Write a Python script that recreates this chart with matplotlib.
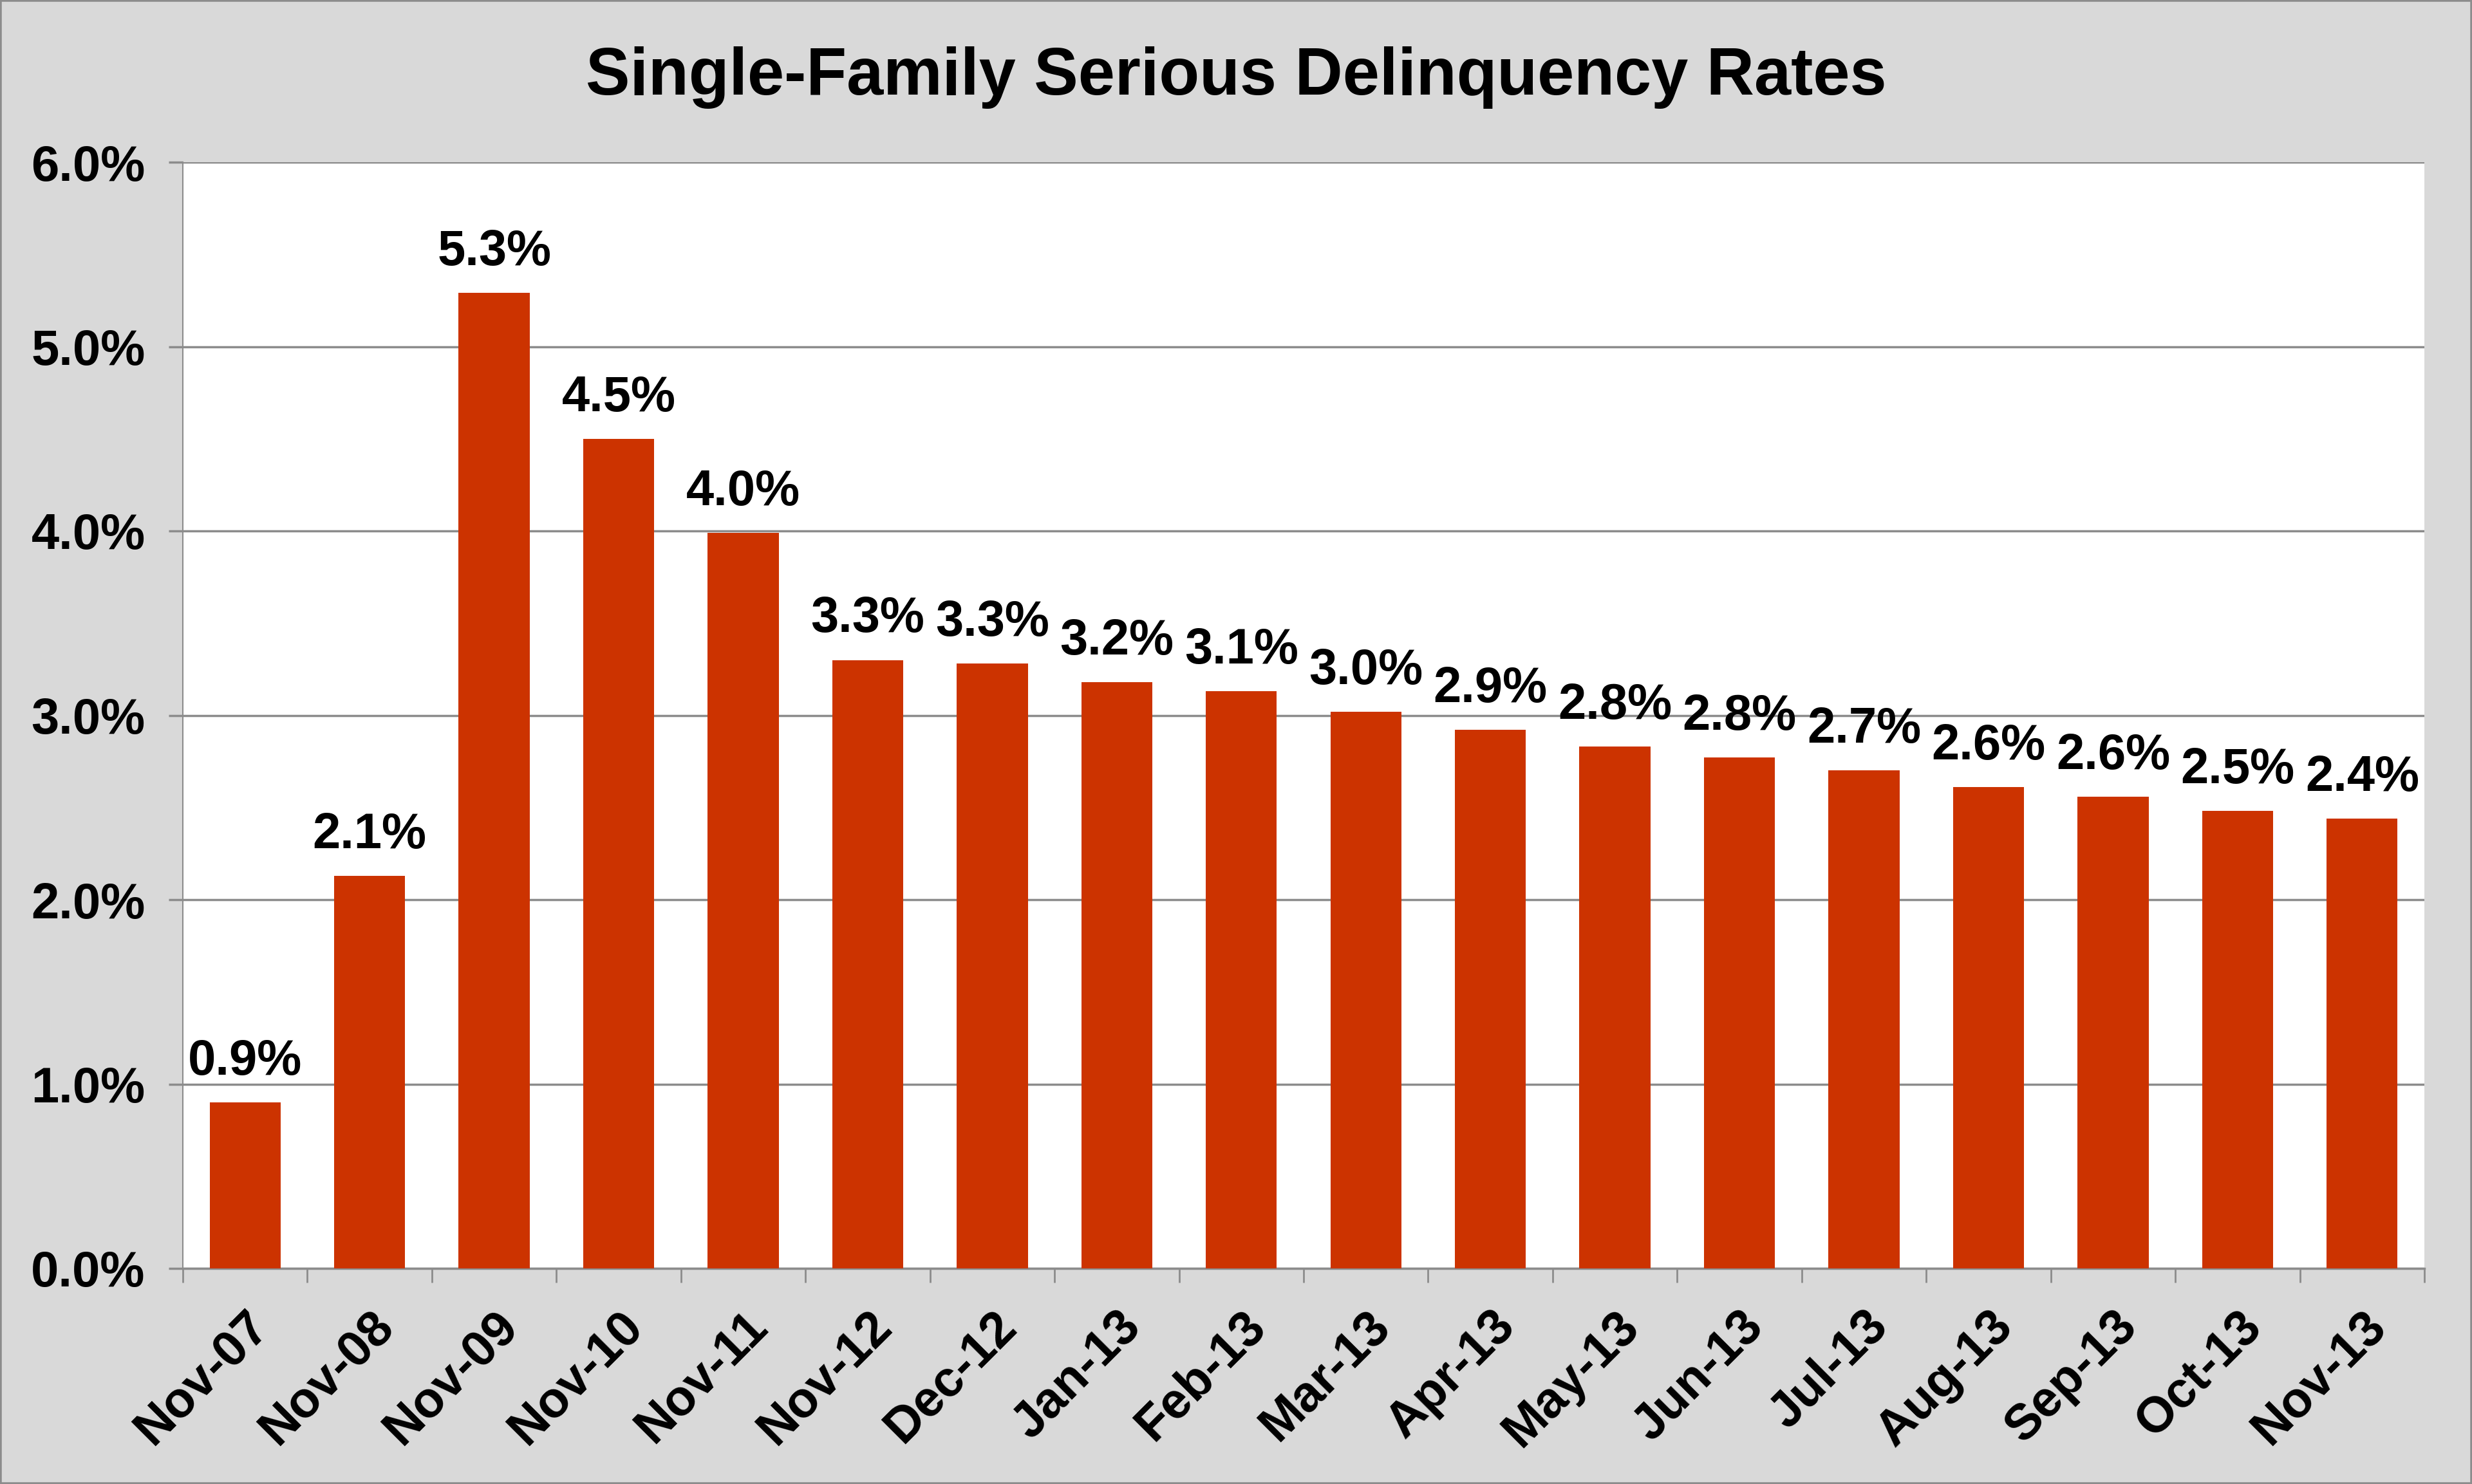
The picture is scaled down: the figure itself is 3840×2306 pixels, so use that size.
import matplotlib.pyplot as plt
import numpy as np
from matplotlib.ticker import FixedLocator, PercentFormatter

# data (percent)
months = ['Nov-07', 'Nov-08', 'Nov-09', 'Nov-10', 'Nov-11', 'Nov-12', 'Dec-12',
          'Jan-13', 'Feb-13', 'Mar-13', 'Apr-13', 'May-13', 'Jun-13', 'Jul-13',
          'Aug-13', 'Sep-13', 'Oct-13', 'Nov-13']
rates = [0.90, 2.13, 5.29, 4.50, 3.99, 3.30, 3.28, 3.18, 3.13, 3.02, 2.92,
         2.83, 2.77, 2.70, 2.61, 2.56, 2.48, 2.44]
y_ticks = [0, 1, 2, 3, 4, 5, 6]

plt.rcParams['font.family'] = ['Liberation Sans', 'DejaVu Sans']
plt.rcParams['font.weight'] = 'bold'

grid_col = '#8c8c8c'
bar_col = '#cc3300'

fig = plt.figure(figsize=(38.4, 23.06), dpi=100, facecolor='#d9d9d9')
ax = fig.add_axes([284 / 3840, 1 - 1971 / 2306, (3766 - 284) / 3840, (1971 - 252) / 2306])
ax.set_facecolor('white')

x = np.arange(len(months))
bars = ax.bar(x, rates, width=0.57, color=bar_col, zorder=3)

ax.set_xlim(-0.5, len(months) - 0.5)
ax.set_ylim(0, 6)
ax.yaxis.set_major_locator(FixedLocator(y_ticks))
ax.yaxis.set_major_formatter(PercentFormatter(decimals=1))
ax.grid(axis='y', color=grid_col, linewidth=2.5, zorder=1)
ax.set_axisbelow(True)

for side in ['top', 'right']:
    ax.spines[side].set_visible(False)
ax.spines['left'].set_color(grid_col)
ax.spines['left'].set_linewidth(1.5)
ax.spines['bottom'].set_color(grid_col)
ax.spines['bottom'].set_linewidth(2.5)

# labels at category centres, tick marks on the category boundaries
ax.set_xticks(x)
ax.set_xticklabels(months, rotation=45, ha='right', va='top', rotation_mode='anchor')
ax.set_xticks(np.arange(len(months) + 1) - 0.5, minor=True)
ax.tick_params(axis='x', which='major', length=0, pad=38, labelsize=56)
ax.tick_params(axis='x', which='minor', length=16, width=2, color=grid_col, direction='out')
ax.tick_params(axis='y', length=16, width=2.5, color=grid_col, direction='out', pad=26,
               labelsize=56)

for r, b in zip(rates, bars):
    ax.annotate(f'{r:.1f}%', (b.get_x() + b.get_width() / 2, r),
                xytext=(0, 31), textcoords='offset points',
                ha='center', va='baseline', fontsize=56, fontweight='bold', zorder=4)

fig.text(0.5, 1 - 147 / 2306, 'Single-Family Serious Delinquency Rates',
         ha='center', va='baseline', fontsize=74, fontweight='bold')

# outer grey frame
fig.patches.append(plt.Rectangle((0, 0), 1, 1, transform=fig.transFigure, fill=False,
                                 edgecolor=grid_col, linewidth=4))

fig.savefig('out.png', dpi=100, facecolor=fig.get_facecolor())
